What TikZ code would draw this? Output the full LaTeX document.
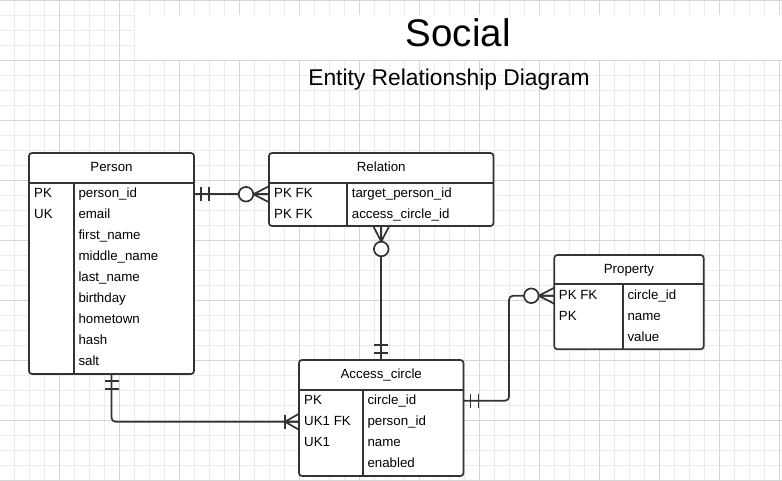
\documentclass[tikz,border=0pt]{standalone}
\usepackage{fontspec}
\setmainfont{Liberation Sans}
\definecolor{lc}{HTML}{333333}
\definecolor{gridminor}{HTML}{EBEBEB}
\definecolor{gridmajor}{HTML}{D6D6D6}
\begin{document}
\begin{tikzpicture}[x=1pt,y=-1pt,
  entity/.style={draw=lc, line width=1.7pt, fill=white, rounded corners=3pt, inner sep=0pt, outer sep=0pt, anchor=north west},
  tt/.style={inner sep=0pt, text height=9.5pt, text depth=3pt, anchor=base west, font=\fontsize{13.3}{16}\selectfont},
  hd/.style={tt, anchor=base},
  sep/.style={draw=lc, line width=1.7pt},
  conn/.style={draw=lc, line width=1.7pt},
  gmin/.style={draw=gridminor, line width=0.9pt},
  gmaj/.style={draw=gridmajor, line width=0.9pt},
  pics/mandone/.style={code={\draw[conn] (7,-7)--(7,7) (15,-7)--(15,7);}},
  pics/zeromany/.style={code={\draw[conn] (15.7,0)--(0,-8) (15.7,0)--(0,0) (15.7,0)--(0,8); \draw[conn,fill=white] (23,0) circle (7.3);}},
  pics/onemany/.style={code={\draw[conn] (14,-7)--(14,7) (14,0)--(0,-8) (14,0)--(0,0) (14,0)--(0,8);}}
]
\useasboundingbox (0,0) rectangle (782,481);
\fill[white] (0,0) rectangle (782,481);
% grid
\foreach \k in {1,...,52} \draw[gmin] ({15*\k-0.5},0) -- ({15*\k-0.5},481);
\foreach \k in {0,...,32} \draw[gmin] (0,{15*\k}) -- (782,{15*\k});
\foreach \k in {4,8,...,52} \draw[gmaj] ({15*\k-0.5},0) -- ({15*\k-0.5},481);
\foreach \k in {0,4,...,32} \draw[gmaj] (0,{15*\k}) -- (782,{15*\k});
% title band
\fill[white] (135,15) rectangle (782,60);
\node[anchor=base, inner sep=0pt, font=\fontsize{38.5}{46}\selectfont] (title) at (458.3,46.7) {Social};
\node[anchor=base, inner sep=0pt, font=\fontsize{22.8}{27}\selectfont] (subtitle) at (449,86) {Entity Relationship Diagram};

% Person
\node[entity, minimum width=165pt, minimum height=221pt] (person) at (29,153) {};
\draw[sep] (29,183) -- (194,183);
\draw[sep] (74,183) -- (74,374);
\node[hd] (person-h) at (111.5,171.5) {Person};
\node[tt] (pk1) at (34,197.5) {PK};
\node[tt] (pk2) at (34,218.5) {UK};
\foreach \v [count=\i] in {person\_id,email,first\_name,middle\_name,last\_name,birthday,hometown,hash,salt}
  \node[tt] (pv\i) at (78.3,{176.5+21*\i}) {\v};

% Relation
\node[entity, minimum width=224.5pt, minimum height=73pt] (relation) at (269,153) {};
\draw[sep] (269,183) -- (493.5,183);
\draw[sep] (347.3,183) -- (347.3,226);
\node[hd] (relation-h) at (381.25,171.5) {Relation};
\node[tt] (rk1) at (274,197.5) {PK FK};
\node[tt] (rk2) at (274,218.5) {PK FK};
\node[tt] (rlv1) at (351.7,197.5) {target\_person\_id};
\node[tt] (rlv2) at (351.7,218.5) {access\_circle\_id};

% Access_circle
\node[entity, minimum width=164.5pt, minimum height=116pt] (access) at (299,360) {};
\draw[sep] (299,390) -- (463.5,390);
\draw[sep] (362.7,390) -- (362.7,476);
\node[hd] (access-h) at (381.25,378) {Access\_circle};
\node[tt] (ak1) at (304,404) {PK};
\node[tt] (ak2) at (304,425) {UK1 FK};
\node[tt] (ak3) at (304,446) {UK1};
\foreach \v [count=\i] in {circle\_id,person\_id,name,enabled}
  \node[tt] (av\i) at (367.3,{383+21*\i}) {\v};

% Property
\node[entity, minimum width=149.4pt, minimum height=94.3pt] (property) at (554.3,255) {};
\draw[sep] (554.3,284.3) -- (703.7,284.3);
\draw[sep] (622.7,284.3) -- (622.7,349.3);
\node[hd] (property-h) at (629,273) {Property};
\node[tt] (prk1) at (558.7,299) {PK FK};
\node[tt] (prk2) at (558.7,320) {PK};
\foreach \v [count=\i] in {circle\_id,name,value}
  \node[tt] (rv\i) at (627.3,{278+21*\i}) {\v};

% connectors
\draw[conn] (person.east |- pv1) -- (relation.west |- pv1);
\draw[conn] (relation.south) -- (access.north);
\draw[conn, rounded corners=4pt] (person.south) |- (access.west |- av2);
\draw[conn, rounded corners=4pt] (access.east |- av1) -- ++(45.5,0) |- (property.west |- rv1);

% ends
\path (person.east |- pv1) pic {mandone};
\path (relation.west |- pv1) pic[rotate=180] {zeromany};
\path (relation.south) pic[rotate=-90] {zeromany};
\path (access.north) pic[rotate=90] {mandone};
\path (person.south) pic[rotate=-90] {mandone};
\path (access.west |- av2) pic[rotate=180] {onemany};
\path (access.east |- av1) pic {mandone};
\path (property.west |- rv1) pic[rotate=180] {zeromany};
\end{tikzpicture}
\end{document}
